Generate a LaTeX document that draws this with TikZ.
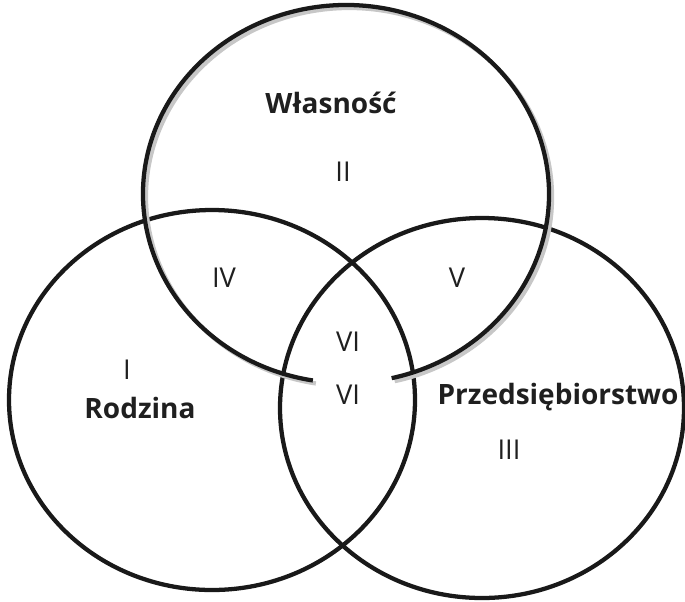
\documentclass[tikz,border=0pt]{standalone}
\usepackage{fontspec}
\setmainfont{Open Sans}
\usepackage{tikz}
\usetikzlibrary{positioning}

\begin{document}
\begin{tikzpicture}[
        x=0.75pt, y=0.75pt,
        ring/.style={draw=black!90, line width=3.2pt},
        ringshadow/.style={draw=black!22, line width=3.2pt},
        setlabel/.style={font=\fontsize{21}{25}\selectfont\bfseries, text=black!88, inner sep=0pt},
        regionlabel/.style={font=\fontsize{20.5}{24}\selectfont, text=black!88, inner sep=0pt}
    ]

    \useasboundingbox (0,0) rectangle (685,-601);

    % ============ SETS ============
    \draw[ring] (212,-400) ellipse [x radius=203, y radius=190];
    \draw[ring] (482,-408) ellipse [x radius=202, y radius=190];

    % top set, open at the bottom
    \draw[ringshadow] (349,-197) ++(283:203 and 189)
        arc[start angle=283, end angle=620.6, x radius=203, y radius=189];
    \draw[ring] (346,-194) ++(283:203 and 189)
        arc[start angle=283, end angle=620.6, x radius=203, y radius=189];

    % ============ LABELS ============
    \node[setlabel] (wlasnosc) at (331,-103) {Własność};
    \node[setlabel] (rodzina) at (140,-408) {Rodzina};
    \node[setlabel] (przeds) at (558,-397) {Przedsiębiorstwo};

    \node[regionlabel] (one) at (127,-370) {I};
    \node[regionlabel] (two) at (343,-172) {II};
    \node[regionlabel] (three) at (509,-450) {III};
    \node[regionlabel] (four) at (224,-278) {IV};
    \node[regionlabel] (five) at (457,-278) {V};
    \node[regionlabel] (sixa) at (348,-342) {VI};
    \node[regionlabel] (sixb) at (348,-395) {VI};

\end{tikzpicture}
\end{document}
